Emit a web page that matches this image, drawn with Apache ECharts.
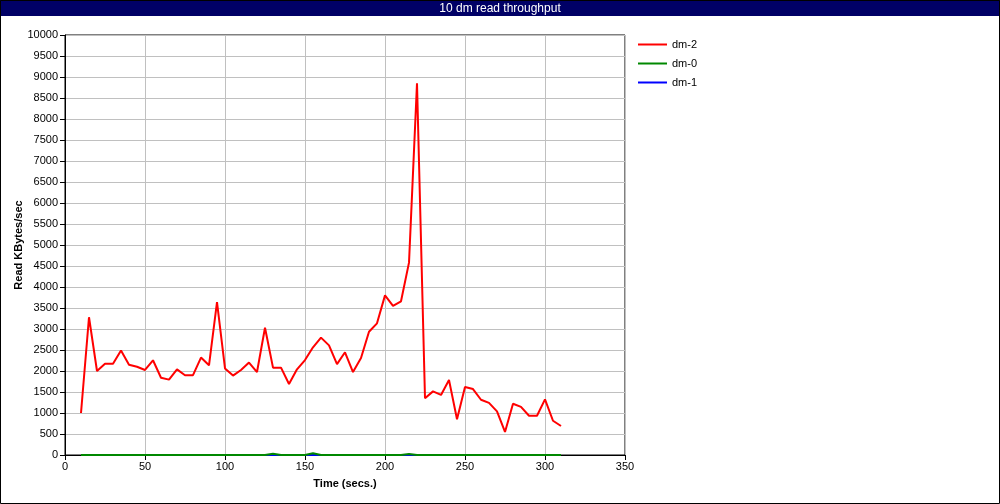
<!DOCTYPE html>
<html>
<head>
<meta charset="utf-8">
<script src="https://cdn.jsdelivr.net/npm/echarts@6/dist/echarts.min.js"></script>
<style>
html,body{margin:0;padding:0;background:#fff;}
#c{width:1000px;height:504px;}
</style>
</head>
<body>
<div id="c"></div>
<script>
const times = [10,15,20,25,30,35,40,45,50,55,60,65,70,75,80,85,90,95,100,105,110,115,120,125,130,135,140,145,150,155,160,165,170,175,180,185,190,195,200,205,210,215,220,225,230,235,240,245,250,255,260,265,270,275,280,285,290,295,300,305,310];
const dm2 = [1000,3280,2000,2170,2175,2490,2150,2100,2025,2255,1840,1795,2040,1900,1900,2320,2135,3640,2060,1890,2025,2200,1975,3030,2080,2080,1690,2040,2260,2565,2795,2610,2165,2445,1975,2310,2935,3135,3800,3550,3660,4580,8850,1350,1515,1430,1785,850,1620,1570,1315,1240,1040,550,1220,1145,935,935,1325,815,690];
const dm0 = [0,0,0,0,0,0,0,0,0,0,0,0,0,0,0,0,0,0,0,0,0,0,0,0,30,0,0,0,0,40,0,0,0,0,0,0,0,0,0,0,0,25,0,0,0,0,0,0,0,0,0,0,0,0,0,0,0,0,0,0,0];
const dm1 = [0,0,0,0,0,0,0,0,0,0,0,0,0,0,0,0,0,0,0,0,0,0,0,0,0,0,0,0,0,0,0,0,0,0,0,0,0,0,0,0,0,0,0,0,0,0,0,0,0,0,0,0,0,0,0,0,0,0,0,0,0];
const seriesNames = ['dm-2','dm-0','dm-1'];
const colors = {'dm-2':'#ff0000','dm-0':'#008800','dm-1':'#0000ff'};
const titleText = '10 dm read throughput';

function pairs(vals){ return times.map((t,i)=>[t, vals[i]]); }
const FONT = 'Liberation Sans';

const chart = echarts.init(document.getElementById('c'), null, {renderer:'canvas'});
function mk(name, vals, z){
  return {name:name, type:'line', data:pairs(vals), symbol:'none', z:z,
    lineStyle:{color:colors[name], width:2}, itemStyle:{color:colors[name]}, animation:false};
}
chart.setOption({
  animation:false,
  backgroundColor:'#fff',
  graphic:[
    {type:'rect', shape:{x:0,y:0,width:1000,height:16}, style:{fill:'#000066'}, z:0},
    {type:'rect', shape:{x:0.5,y:0.5,width:999,height:503}, style:{fill:null, stroke:'#000', lineWidth:1}, z:100}
  ],
  title:{text:titleText, left:'center', top:2, textStyle:{color:'#fff', fontSize:12, fontWeight:'normal', fontFamily:FONT, lineHeight:13}, padding:0, z:10},
  legend:{orient:'vertical', left:638, top:39, padding:0, itemWidth:29, itemHeight:2, itemGap:8, icon:'rect',
    data:seriesNames, textStyle:{fontSize:11, fontFamily:FONT, color:'#000', lineHeight:11}},
  grid:{left:65, right:375, top:35, bottom:49, show:true, borderColor:'#000', borderWidth:1, backgroundColor:'#fff',
    containLabel:false, outerBoundsMode:'none'},
  xAxis:{type:'value', min:0, max:350, interval:50,
    name:'Time (secs.)', nameLocation:'middle', nameGap:23, nameMoveOverlap:false,
    nameTextStyle:{fontWeight:'bold', fontSize:11, fontFamily:FONT, color:'#000'},
    axisLine:{show:true, lineStyle:{color:'#000', width:1}},
    axisTick:{show:true, inside:false, length:5, lineStyle:{color:'#000'}},
    axisLabel:{fontSize:11, fontFamily:FONT, color:'#000', margin:6, formatter:v=>String(v)},
    splitLine:{show:true, lineStyle:{color:'#c0c0c0', width:1}}},
  yAxis:{type:'value', min:0, max:10000, interval:500,
    name:'Read KBytes/sec', nameLocation:'middle', nameGap:41, nameRotate:90, nameMoveOverlap:false,
    nameTextStyle:{fontWeight:'bold', fontSize:11, fontFamily:FONT, color:'#000'},
    axisLine:{show:true, lineStyle:{color:'#000', width:1}},
    axisTick:{show:true, inside:false, length:5, lineStyle:{color:'#000'}},
    axisLabel:{fontSize:11, fontFamily:FONT, color:'#000', margin:7, formatter:v=>String(v)},
    splitLine:{show:true, lineStyle:{color:'#c0c0c0', width:1}}},
  series:[mk('dm-1', dm1, 2), mk('dm-0', dm0, 3), mk('dm-2', dm2, 4)]
});
</script>
</body>
</html>
